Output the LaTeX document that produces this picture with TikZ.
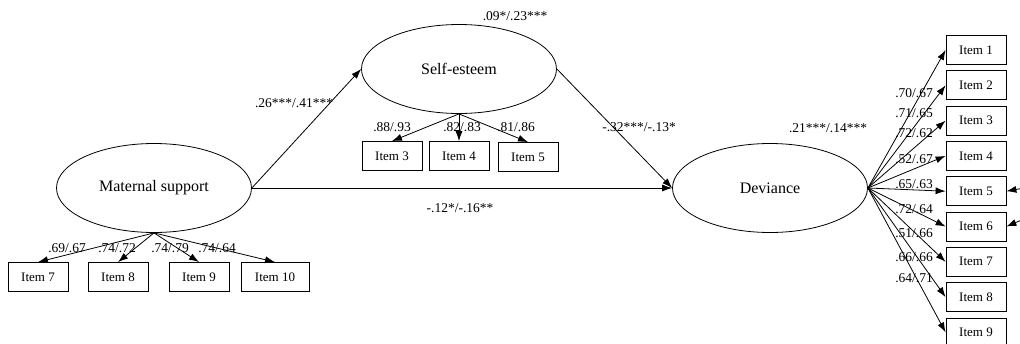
\documentclass[tikz,border=0pt]{standalone}
\usepackage{fontspec}
\setmainfont{Liberation Serif}
\usetikzlibrary{shapes.geometric,arrows.meta}

\tikzset{
  latent/.style={draw, ellipse, minimum width=195pt, minimum height=89pt, inner sep=0pt, font=\fontsize{16}{18}\selectfont},
  itembox/.style={draw, minimum width=60pt, minimum height=29pt, inner sep=0pt, font=\fontsize{13}{15}\selectfont},
  path/.style={-{Latex[length=10pt,width=7pt]}, line width=0.8pt},
  coef/.style={font=\fontsize{13.5}{15}\selectfont, inner sep=0pt},
}

\begin{document}
\begin{tikzpicture}[x=1pt, y=-1pt, line width=0.8pt]
    \useasboundingbox (0,0) rectangle (1020,343);

    % ---- Latent variables ----
    \node[latent] (mat) at (154,188) {Maternal support};
    \node[latent] (self) at (459,69) {Self-esteem};
    \node[latent] (dev) at (770,188) {Deviance};

    % Structural paths
    \draw[path] (mat.east) -- (self.west);
    \draw[path] (self.east) -- (dev.west);
    \draw[path] (mat.east) -- (dev.west);

    \node[coef] at (294,103) {.26***/.41***};
    \node[coef] at (639,127) {-.32***/-.13*};
    \node[coef] at (460,208) {-.12*/-.16**};
    \node[coef] at (515,16) {.09*/.23***};
    \node[coef] at (828,128) {.21***/.14***};

    % ---- Self-esteem items ----
    \node[itembox] (s3) at (392,156) {Item 3};
    \node[itembox] (s4) at (459,156) {Item 4};
    \node[itembox] (s5) at (528,157) {Item 5};
    \foreach \i/\lx/\txt in {3/392/{.88/.93}, 4/462/{.82/.83}, 5/516/{.81/.86}} {
        \draw[path] (self.south) -- (s\i.north);
        \node[coef] at (\lx,127) {\txt};
    }

    % ---- Maternal support items ----
    \node[itembox] (m7) at (38,277) {Item 7};
    \node[itembox] (m8) at (118,277) {Item 8};
    \node[itembox] (m9) at (199,277) {Item 9};
    \node[itembox, minimum width=68pt] (m10) at (275,277) {Item 10};
    \foreach \i/\lx/\txt in {7/67/{.69/.67}, 8/117/{.74/.72}, 9/170/{.74/.79}, 10/217/{.74/.64}} {
        \draw[path] (mat.south) -- (m\i.north);
        \node[coef] at (\lx,248) {\txt};
    }

    % ---- Deviance items ----
    \foreach \i in {1,...,9} {
        \node[itembox] (d\i) at (976,{50+35.3*(\i-1)}) {Item \i};
        \draw[path] (dev.east) -- (d\i.west);
    }
    \foreach \ly/\txt in {93/{.70/.67}, 113/{.71/.65}, 133/{.72/.62}, 159/{.52/.67}, 184/{.65/.63},
                          209/{.72/.64}, 233/{.51/.66}, 257/{.66/.66}, 278/{.64/.71}} {
        \node[coef] at (914,\ly) {\txt};
    }

    % Error terms (cut off at the edge)
    \coordinate (e5) at (1024,188);
    \coordinate (e6) at (1024,219);
    \draw[path] (e5) -- (d5.east);
    \draw[path] (e6) -- (d6.east);
\end{tikzpicture}
\end{document}
